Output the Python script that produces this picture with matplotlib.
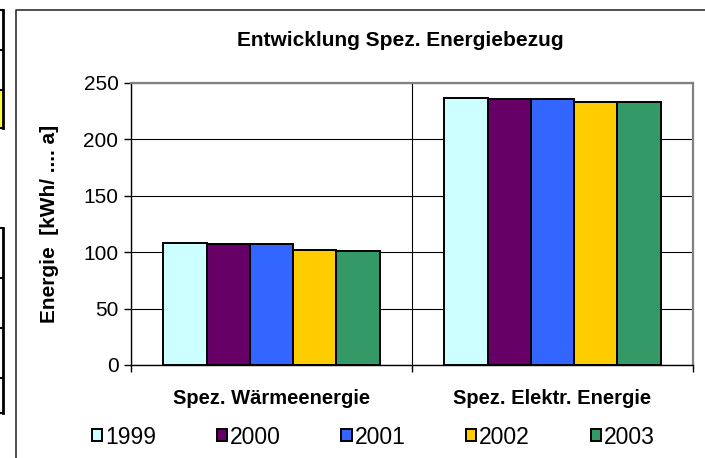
import matplotlib.pyplot as plt
from matplotlib.patches import Rectangle
from matplotlib.lines import Line2D

plt.rcParams['font.family'] = ['Liberation Sans', 'DejaVu Sans']

# data
categories = ['Spez. Wärmeenergie', 'Spez. Elektr. Energie']
years = ['1999', '2000', '2001', '2002', '2003']
values = {
    '1999': [108, 236.5],
    '2000': [107.5, 236],
    '2001': [107, 235.5],
    '2002': [102, 233.5],
    '2003': [101.5, 233.5],
}
colors = ['#CCFFFF', '#660066', '#3366FF', '#FFCC00', '#339966']

fig = plt.figure(figsize=(7.05, 4.58), dpi=100)
ax = fig.add_axes([131 / 705, 93 / 458, 562 / 705, 282 / 458])

# Excel style: gap width 150 -> 5 bars + 1.5 bar gap per category
w = 1 / 6.5
for i, yr in enumerate(years):
    xs = [c + 0.5 + (i - 2) * w for c in range(len(categories))]
    ax.bar(xs, values[yr], width=w, color=colors[i], edgecolor='black',
           linewidth=1.4, zorder=3)

ax.set_xlim(0, 2)
ax.set_ylim(0, 250)
ax.set_yticks([0, 50, 100, 150, 200, 250])
ax.set_xticks([0, 1, 2])
ax.set_xticklabels([])
ax.set_xticks([0.5, 1.5], minor=True)
ax.set_xticklabels(categories, minor=True, fontweight='bold', fontsize=14.5)
ax.tick_params(axis='x', which='minor', length=0, pad=17)
ax.tick_params(axis='x', which='major', direction='out', length=5, width=1)
ax.tick_params(axis='y', direction='out', length=5, width=1, labelsize=15, pad=4)

ax.grid(axis='y', color='black', linewidth=0.8, zorder=0)
ax.grid(axis='x', which='major', color='black', linewidth=0.8, zorder=0)
for s in ['top', 'right']:
    ax.spines[s].set_color('#808080')
    ax.spines[s].set_linewidth(1.6)
for s in ['left', 'bottom']:
    ax.spines[s].set_color('black')
    ax.spines[s].set_linewidth(1)

ax.set_ylabel('Energie  [kWh/ .... a]', fontweight='bold', fontsize=15)
ax.yaxis.set_label_coords(59 / 705, (93 + 141) / 458, transform=fig.transFigure)

fig.text(400 / 705, 1 - 41 / 458, 'Entwicklung Spez. Energiebezug',
         ha='center', va='center', fontweight='bold', fontsize=15)

# legend
handles = [Rectangle((0, 0), 1, 1, facecolor=c, edgecolor='black', linewidth=1.4)
           for c in colors]
fig.legend(handles, years, loc='center left', bbox_to_anchor=(92 / 705, 1 - 437 / 458),
           ncol=5, frameon=False, fontsize=16.5, handlelength=0.45, handleheight=0.45,
           handletextpad=0.12, columnspacing=2.65, borderpad=0, borderaxespad=0)

# chart frame and table remnants at the left
fig.add_artist(Line2D([16 / 705, 16 / 705, 1], [0, 1 - 10 / 458, 1 - 10 / 458],
                      color='#303030', linewidth=1.2))
for y0, y1 in [(10, 128), (228, 413)]:
    fig.add_artist(Line2D([3 / 705, 3 / 705], [1 - y0 / 458, 1 - y1 / 458],
                          color='black', linewidth=2))
fig.add_artist(Rectangle((0, 1 - 128 / 458), 2 / 705, 38 / 458, color='#FFFF33',
                         transform=fig.transFigure))
for y in [10, 50, 90, 128, 228, 278, 328, 378, 413]:
    fig.add_artist(Line2D([0, 3 / 705], [1 - y / 458, 1 - y / 458],
                          color='black', linewidth=1.5))

plt.savefig('out.png', dpi=100)
